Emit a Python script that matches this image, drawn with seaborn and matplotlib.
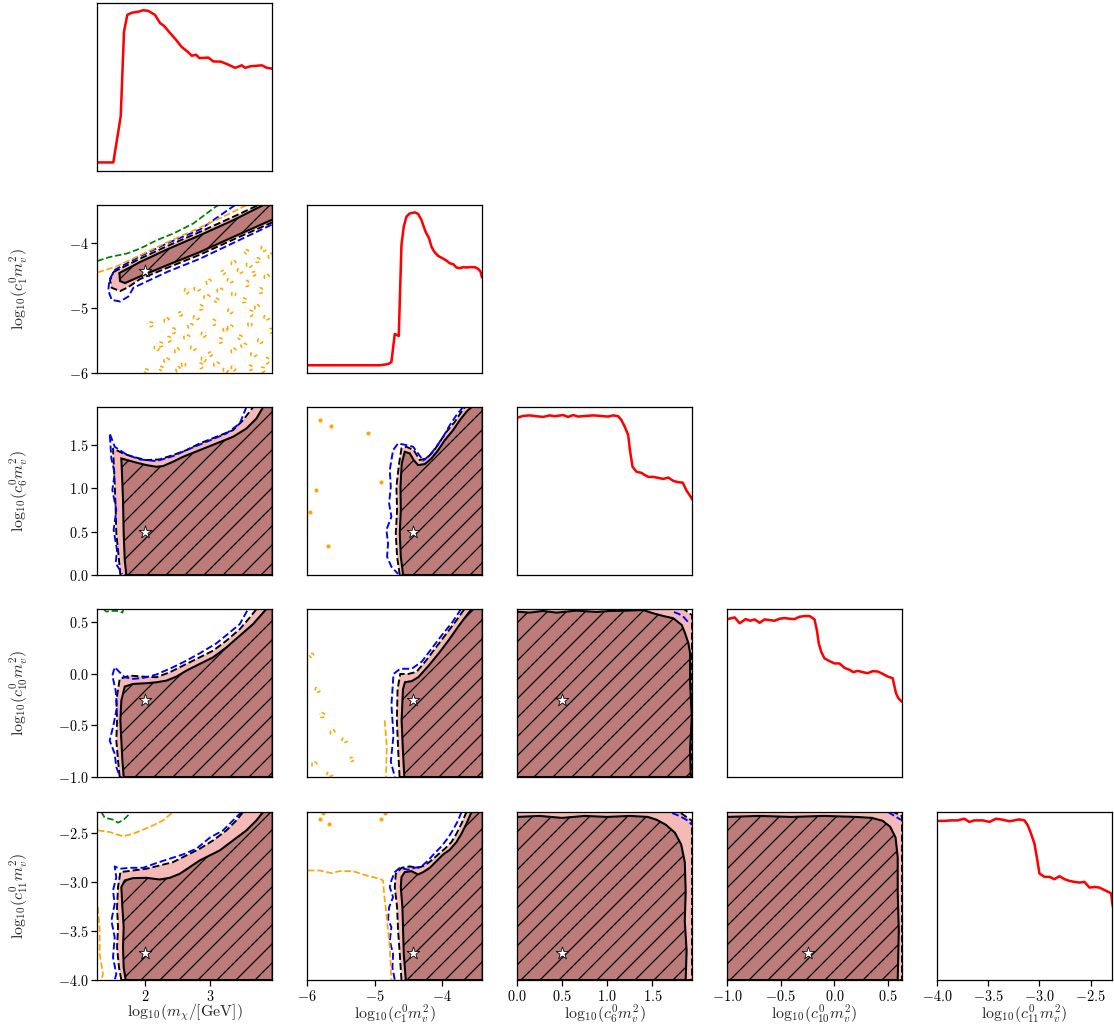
import numpy as np
import matplotlib
matplotlib.use("Agg")
import matplotlib.pyplot as plt
import seaborn as sns

# ------------------------------------------------------------------
# Parameters of the fit
# ------------------------------------------------------------------
param_labels = [r"$\mathrm{log}_{10}(m_\chi/[\mathrm{GeV}])$",
                r"$\mathrm{log}_{10}(c_1^0 m_v^2)$",
                r"$\mathrm{log}_{10}(c_6^0 m_v^2)$",
                r"$\mathrm{log}_{10}(c_{10}^0 m_v^2)$",
                r"$\mathrm{log}_{10}(c_{11}^0 m_v^2)$"]
param_limits = [(1.26, 3.95), (-6.0, -3.41), (0.0, 1.94), (-1.0, 0.63), (-4.0, -2.29)]
tick_values = [[2, 3], [-6, -5, -4], [0.0, 0.5, 1.0, 1.5],
               [-1.0, -0.5, 0.0, 0.5], [-4.0, -3.5, -3.0, -2.5]]
tick_labels = [[r"$2$", r"$3$"],
               [r"$-6$", r"$-5$", r"$-4$"],
               [r"$0.0$", r"$0.5$", r"$1.0$", r"$1.5$"],
               [r"$-1.0$", r"$-0.5$", r"$0.0$", r"$0.5$"],
               [r"$-4.0$", r"$-3.5$", r"$-3.0$", r"$-2.5$"]]
truth = [2.0, -4.43, 0.5, -0.25, -3.73]

# ------------------------------------------------------------------
# 1D profile likelihoods
# ------------------------------------------------------------------
mchi_prof_x = [1.26, 1.511, 1.625, 1.675, 1.726, 1.794, 1.895, 1.972, 2.049, 2.152, 2.23, 2.29,
               2.383, 2.475, 2.563, 2.665, 2.717, 2.783, 2.834, 2.972, 3.049, 3.163, 3.255,
               3.383, 3.486, 3.537, 3.614, 3.794, 3.871, 3.957]
mchi_prof_y = [0.051, 0.051, 0.327, 0.830, 0.929, 0.942, 0.948, 0.957, 0.953, 0.929, 0.880, 0.864,
               0.821, 0.781, 0.738, 0.706, 0.686, 0.692, 0.672, 0.675, 0.652, 0.651, 0.637,
               0.614, 0.629, 0.614, 0.623, 0.629, 0.614, 0.609]

c1_prof_x = [-6.0, -4.923, -4.80, -4.751, -4.701, -4.677, -4.642, -4.602, -4.568, -4.528, -4.479,
             -4.405, -4.356, -4.306, -4.272, -4.242, -4.193, -4.158, -4.119, -4.059, -3.995,
             -3.936, -3.886, -3.837, -3.788, -3.738, -3.689, -3.640, -3.590, -3.516, -3.467,
             -3.432, -3.41]
c1_prof_y = [0.046, 0.046, 0.053, 0.065, 0.232, 0.228, 0.220, 0.762, 0.871, 0.931, 0.950,
             0.956, 0.947, 0.911, 0.871, 0.838, 0.802, 0.752, 0.723, 0.697, 0.683,
             0.669, 0.653, 0.648, 0.628, 0.624, 0.630, 0.628, 0.630, 0.630, 0.620,
             0.604, 0.568]

c6_prof_x = [0.011, 0.067, 0.141, 0.215, 0.289, 0.363, 0.419, 0.511, 0.567, 0.622, 0.678, 0.770,
             0.844, 0.919, 1.011, 1.067, 1.122, 1.159, 1.196, 1.233, 1.252, 1.281, 1.326, 1.381,
             1.400, 1.456, 1.511, 1.567, 1.622, 1.678, 1.733, 1.789, 1.837, 1.881, 1.919, 1.948]
c6_prof_y = [0.937, 0.947, 0.950, 0.945, 0.941, 0.950, 0.945, 0.952, 0.941, 0.952, 0.943, 0.947,
             0.950, 0.947, 0.943, 0.950, 0.945, 0.921, 0.881, 0.832, 0.743, 0.644, 0.614, 0.608,
             0.600, 0.584, 0.584, 0.578, 0.572, 0.580, 0.560, 0.552, 0.550, 0.501, 0.471, 0.446]

c10_prof_x = [-0.991, -0.929, -0.882, -0.826, -0.783, -0.743, -0.696, -0.650, -0.603, -0.557,
              -0.510, -0.464, -0.417, -0.371, -0.324, -0.278, -0.231, -0.185, -0.163, -0.145,
              -0.123, -0.092, -0.046, 0.001, 0.047, 0.094, 0.140, 0.178, 0.218, 0.264, 0.311,
              0.357, 0.404, 0.450, 0.497, 0.543, 0.574, 0.596, 0.630]
c10_prof_y = [0.940, 0.950, 0.915, 0.940, 0.930, 0.938, 0.918, 0.938, 0.934, 0.930,
              0.942, 0.946, 0.942, 0.940, 0.954, 0.958, 0.958, 0.938, 0.875, 0.795,
              0.746, 0.706, 0.690, 0.676, 0.676, 0.650, 0.638, 0.624, 0.632, 0.624, 0.618,
              0.630, 0.628, 0.614, 0.598, 0.588, 0.499, 0.469, 0.447]

c11_prof_x = [-3.984, -3.928, -3.863, -3.798, -3.733, -3.684, -3.635, -3.553, -3.488, -3.423,
              -3.358, -3.292, -3.244, -3.195, -3.146, -3.113, -3.081, -3.048, -3.025, -2.999,
              -2.950, -2.901, -2.852, -2.803, -2.754, -2.706, -2.657, -2.608, -2.559, -2.510,
              -2.461, -2.412, -2.363, -2.314, -2.298, -2.282]
c11_prof_y = [0.947, 0.947, 0.950, 0.950, 0.960, 0.941, 0.950, 0.950, 0.941, 0.960,
              0.954, 0.945, 0.950, 0.956, 0.950, 0.921, 0.871, 0.812, 0.733, 0.634,
              0.614, 0.614, 0.600, 0.618, 0.600, 0.590, 0.584, 0.580, 0.584, 0.550,
              0.554, 0.550, 0.535, 0.521, 0.515, 0.436]

# ------------------------------------------------------------------
# 2D credible regions and comparison contours
# ------------------------------------------------------------------
# c1 vs m_chi
c1_mchi_1sig = [(1.604, -4.459), (1.922, -4.289), (2.332, -4.097), (2.845, -3.875), (3.357, -3.643),
                (3.819, -3.41), (3.963, -3.41), (3.963, -3.632), (3.357, -3.901), (2.845, -4.134),
                (2.332, -4.34), (1.922, -4.511), (1.691, -4.614), (1.614, -4.583)]
c1_mchi_2sig = [(1.511, -4.444), (1.922, -4.237), (2.332, -4.046), (2.845, -3.823), (3.357, -3.591),
                (3.742, -3.41), (3.963, -3.41), (3.963, -3.674), (3.357, -3.942), (2.845, -4.175),
                (2.332, -4.382), (1.922, -4.552), (1.742, -4.676), (1.614, -4.738), (1.486, -4.686),
                (1.46, -4.573)]
c1_mchi_blue = [(3.383, -3.41), (2.845, -3.787), (2.332, -4.004), (1.922, -4.201), (1.537, -4.407),
                (1.45, -4.562), (1.434, -4.728), (1.486, -4.873), (1.614, -4.898), (1.742, -4.821),
                (1.819, -4.686), (2.332, -4.444), (2.845, -4.237), (3.357, -3.994), (3.963, -3.705)]
c1_mchi_orange = [(1.27, -4.449), (1.537, -4.366), (1.922, -4.185), (2.332, -3.989), (2.845, -3.756),
                  (3.306, -3.539), (3.563, -3.41)]
c1_mchi_green = [(1.265, -4.273), (1.46, -4.211), (1.716, -4.159), (1.922, -4.082), (2.178, -3.953),
                 (2.434, -3.849), (2.742, -3.694), (3.049, -3.462), (3.127, -3.41)]
c1_mchi_orange_islands = [
    (3.56, -4.13), (3.82, -4.08), (3.72, -4.26), (3.36, -4.31), (3.46, -4.42), (3.67, -4.47),
    (3.87, -4.52), (3.31, -4.57), (3.56, -4.62), (3.15, -4.73), (3.36, -4.78), (3.77, -4.73),
    (2.95, -4.83), (2.64, -4.73), (2.85, -4.99), (3.10, -4.88), (3.31, -5.04), (3.51, -4.88),
    (3.72, -4.99), (3.87, -5.14), (2.54, -5.09), (2.33, -5.19), (2.79, -5.14), (3.05, -5.22),
    (3.31, -5.30), (3.61, -5.25), (2.43, -5.35), (2.64, -5.45), (2.90, -5.40), (3.15, -5.50),
    (3.46, -5.45), (3.77, -5.50), (2.23, -5.56), (2.49, -5.66), (2.74, -5.61), (3.00, -5.71),
    (3.36, -5.66), (3.67, -5.71), (3.87, -5.81), (2.33, -5.81), (2.59, -5.87), (2.85, -5.89),
    (3.10, -5.87), (3.36, -5.92), (3.61, -5.92), (2.02, -5.97), (2.18, -5.61), (2.08, -5.25),
    (3.93, -4.20), (3.60, -4.33), (3.20, -4.45), (2.98, -4.60), (2.80, -4.70), (3.62, -5.08),
    (2.70, -5.28), (3.23, -5.33), (2.36, -5.48), (3.52, -5.58), (2.90, -5.78), (3.80, -5.95),
    (2.25, -5.93), (3.24, -5.95), (3.93, -5.35), (2.51, -5.95)]

# c6 vs m_chi
c6_mchi_1sig = [(1.711, 0.0), (1.686, 0.173), (1.67, 0.481), (1.66, 0.865), (1.65, 1.058),
                (1.634, 1.346), (1.814, 1.308), (2.019, 1.269), (2.173, 1.25), (2.275, 1.258),
                (2.429, 1.308), (2.583, 1.365), (2.839, 1.442), (3.096, 1.519), (3.352, 1.596),
                (3.557, 1.692), (3.711, 1.808), (3.814, 1.94), (3.96, 1.94), (3.96, 0.0)]
c6_mchi_2sig = [(1.619, 0.0), (1.598, 0.173), (1.557, 0.481), (1.547, 0.75), (1.532, 1.058),
                (1.506, 1.462), (1.66, 1.404), (1.814, 1.365), (2.019, 1.327), (2.224, 1.335),
                (2.429, 1.385), (2.634, 1.442), (2.839, 1.519), (3.096, 1.596), (3.352, 1.673),
                (3.506, 1.788), (3.66, 1.94), (3.96, 1.94), (3.96, 0.0)]
c6_mchi_blue = [(3.557, 1.94), (3.455, 1.75), (3.25, 1.635), (2.942, 1.538), (2.634, 1.442),
                (2.429, 1.373), (2.173, 1.315), (1.916, 1.335), (1.711, 1.392), (1.532, 1.481),
                (1.455, 1.635), (1.481, 1.346), (1.532, 1.173), (1.496, 0.981), (1.557, 0.75),
                (1.516, 0.519), (1.568, 0.288), (1.547, 0.135), (1.65, 0.012)]

# c6 vs c1
c6_c1_1sig = [(-4.578, 0.0), (-4.612, 0.212), (-4.627, 0.481), (-4.612, 0.75), (-4.617, 1.019),
              (-4.598, 1.288), (-4.553, 1.423), (-4.479, 1.404), (-4.42, 1.327), (-4.356, 1.269),
              (-4.257, 1.281), (-4.158, 1.346), (-4.059, 1.442), (-3.96, 1.558), (-3.837, 1.673),
              (-3.738, 1.788), (-3.64, 1.885), (-3.565, 1.94), (-3.40, 1.94), (-3.40, 0.0)]
c6_c1_2sig = [(-4.627, 0.0), (-4.667, 0.212), (-4.686, 0.481), (-4.667, 0.75), (-4.677, 1.019),
              (-4.637, 1.288), (-4.602, 1.462), (-4.528, 1.481), (-4.42, 1.442), (-4.331, 1.327),
              (-4.232, 1.346), (-4.133, 1.423), (-4.035, 1.538), (-3.936, 1.654), (-3.812, 1.769),
              (-3.714, 1.885), (-3.664, 1.94), (-3.40, 1.94), (-3.40, 0.0)]
c6_c1_blue = [(-3.689, 1.94), (-3.788, 1.846), (-3.886, 1.731), (-3.985, 1.596), (-4.084, 1.481),
              (-4.183, 1.385), (-4.281, 1.319), (-4.356, 1.404), (-4.43, 1.481), (-4.528, 1.5),
              (-4.652, 1.519), (-4.726, 1.442), (-4.775, 1.212), (-4.76, 1.019), (-4.785, 0.827),
              (-4.751, 0.673), (-4.825, 0.519), (-4.8, 0.365), (-4.815, 0.212), (-4.751, 0.096),
              (-4.652, 0.012)]
c6_c1_orange_dots = [(-5.81, 1.79), (-5.64, 1.72), (-5.09, 1.64), (-4.90, 1.07), (-5.87, 0.98),
                     (-5.95, 0.73), (-5.69, 0.33)]

# c10 vs m_chi
c10_mchi_1sig = [(1.67, -1.0), (1.65, -0.839), (1.634, -0.645), (1.619, -0.452), (1.634, -0.258),
                 (1.686, -0.123), (1.814, -0.097), (2.019, -0.09), (2.173, -0.081), (2.327, -0.065),
                 (2.481, -0.026), (2.634, 0.032), (2.839, 0.097), (3.045, 0.161), (3.25, 0.258),
                 (3.455, 0.371), (3.66, 0.484), (3.839, 0.613), (3.865, 0.63), (3.96, 0.63),
                 (3.96, -1.0)]
c10_mchi_2sig = [(1.609, -1.0), (1.583, -0.839), (1.557, -0.645), (1.568, -0.452), (1.557, -0.258),
                 (1.609, -0.048), (1.763, -0.016), (1.968, -0.026), (2.173, -0.032), (2.378, 0.016),
                 (2.583, 0.081), (2.839, 0.161), (3.045, 0.226), (3.25, 0.323), (3.455, 0.435),
                 (3.609, 0.548), (3.712, 0.63), (3.96, 0.63), (3.96, -1.0)]
c10_mchi_blue = [(3.568, 0.613), (3.455, 0.484), (3.301, 0.403), (3.096, 0.297), (2.839, 0.2),
                 (2.634, 0.129), (2.429, 0.065), (2.173, -0.006), (1.968, -0.039), (1.814, -0.048),
                 (1.686, -0.032), (1.609, 0.016), (1.532, 0.065), (1.496, -0.016), (1.547, -0.161),
                 (1.568, -0.323), (1.506, -0.516), (1.455, -0.645), (1.532, -0.774), (1.557, -0.903),
                 (1.609, -0.994)]
c10_mchi_green = [(1.36, 0.63), (1.40, 0.605), (1.50, 0.612), (1.60, 0.61), (1.65, 0.595), (1.67, 0.63)]

# c10 vs c1
c10_c1_1sig = [(-4.56, -1.0), (-4.58, -0.75), (-4.60, -0.45), (-4.58, -0.15), (-4.55, -0.08),
               (-4.45, -0.07), (-4.35, -0.03), (-4.20, 0.08), (-4.05, 0.20), (-3.90, 0.33),
               (-3.75, 0.47), (-3.60, 0.60), (-3.56, 0.63), (-3.40, 0.63), (-3.40, -1.0)]
c10_c1_2sig = [(-4.63, -1.0), (-4.65, -0.75), (-4.67, -0.45), (-4.66, -0.15), (-4.62, 0.0),
               (-4.50, 0.0), (-4.38, 0.02), (-4.25, 0.12), (-4.10, 0.25), (-3.95, 0.38),
               (-3.80, 0.51), (-3.67, 0.63), (-3.40, 0.63), (-3.40, -1.0)]
c10_c1_blue = [(-3.72, 0.63), (-3.85, 0.50), (-4.00, 0.38), (-4.15, 0.25), (-4.30, 0.12),
               (-4.45, 0.05), (-4.62, 0.05), (-4.72, 0.0), (-4.75, -0.3), (-4.72, -0.6),
               (-4.76, -0.85), (-4.70, -1.0)]
c10_c1_orange = [(-4.85, -0.45), (-4.82, -0.7), (-4.83, -1.0)]
c10_c1_orange_islands = [(-5.93, 0.18), (-5.84, -0.15), (-5.78, -0.40), (-5.62, -0.57),
                         (-5.44, -0.64), (-5.34, -0.83), (-5.89, -0.88), (-5.66, -0.97)]

# c10 vs c6
c10_c6_1sig = [(0.0, 0.604), (0.141, 0.595), (0.289, 0.611), (0.437, 0.595), (0.659, 0.614),
               (0.881, 0.601), (1.03, 0.611), (1.215, 0.614), (1.4, 0.62), (1.511, 0.588),
               (1.622, 0.562), (1.733, 0.54), (1.826, 0.475), (1.863, 0.395), (1.9, 0.298),
               (1.919, 0.201), (1.919, -0.089), (1.937, -0.412), (1.919, -0.735), (1.926, -1.0),
               (0.0, -1.0)]
c10_c6_2sig = [(0.0, -1.0), (0.0, 0.63), (1.85, 0.63), (1.94, 0.57), (1.94, -1.0)]
c10_c6_blue = [(1.74, 0.60), (1.80, 0.58), (1.85, 0.55), (1.90, 0.50)]

# c11 vs m_chi
c11_mchi_1sig = [(1.701, -4.0), (1.67, -3.872), (1.66, -3.668), (1.67, -3.463), (1.65, -3.259),
                 (1.634, -3.055), (1.686, -2.987), (1.814, -2.963), (2.019, -2.96), (2.224, -2.977),
                 (2.378, -2.96), (2.532, -2.919), (2.686, -2.851), (2.839, -2.783), (2.993, -2.732),
                 (3.147, -2.681), (3.352, -2.579), (3.557, -2.477), (3.711, -2.375), (3.814, -2.29),
                 (3.96, -2.29), (3.96, -4.0)]
c11_mchi_2sig = [(1.634, -4.0), (1.598, -3.872), (1.568, -3.668), (1.583, -3.463), (1.568, -3.259),
                 (1.583, -3.055), (1.619, -2.902), (1.814, -2.885), (2.019, -2.868), (2.224, -2.834),
                 (2.429, -2.8), (2.634, -2.732), (2.839, -2.664), (3.045, -2.579), (3.25, -2.477),
                 (3.404, -2.375), (3.506, -2.29), (3.96, -2.29), (3.96, -4.0)]
c11_mchi_blue = [(3.481, -2.29), (3.352, -2.375), (3.198, -2.477), (2.993, -2.552), (2.788, -2.664),
                 (2.583, -2.722), (2.327, -2.776), (2.173, -2.81), (1.968, -2.858), (1.763, -2.858),
                 (1.609, -2.868), (1.532, -2.844), (1.557, -2.953), (1.506, -3.089), (1.532, -3.225),
                 (1.481, -3.395), (1.532, -3.566), (1.506, -3.77), (1.557, -3.94), (1.532, -4.0)]
c11_mchi_orange_top = [(1.275, -2.477), (1.455, -2.494), (1.66, -2.538), (1.814, -2.511),
                       (2.07, -2.443), (2.275, -2.375), (2.429, -2.29)]
c11_mchi_orange_left = [(1.275, -3.259), (1.301, -3.497), (1.301, -3.736), (1.352, -3.94), (1.327, -4.0)]
c11_mchi_green = [(1.327, -2.29), (1.378, -2.348), (1.506, -2.368), (1.583, -2.399), (1.67, -2.368),
                  (1.737, -2.324), (1.763, -2.29)]

# c11 vs c1
c11_c1_1sig = [(-4.538, -4.0), (-4.568, -3.736), (-4.578, -3.497), (-4.588, -3.259), (-4.612, -3.055),
               (-4.602, -2.953), (-4.553, -2.902), (-4.454, -2.892), (-4.356, -2.926), (-4.281, -2.902),
               (-4.183, -2.858), (-4.084, -2.79), (-3.985, -2.722), (-3.886, -2.674), (-3.788, -2.596),
               (-3.714, -2.511), (-3.64, -2.409), (-3.565, -2.29), (-3.40, -2.29), (-3.40, -4.0)]
c11_c1_2sig = [(-4.602, -4.0), (-4.627, -3.736), (-4.652, -3.497), (-4.667, -3.259), (-4.701, -3.055),
               (-4.686, -2.919), (-4.602, -2.858), (-4.479, -2.844), (-4.356, -2.858), (-4.257, -2.834),
               (-4.158, -2.783), (-4.059, -2.722), (-3.96, -2.664), (-3.862, -2.596), (-3.788, -2.511),
               (-3.714, -2.409), (-3.64, -2.29), (-3.40, -2.29), (-3.40, -4.0)]
c11_c1_blue = [(-3.714, -2.29), (-3.763, -2.375), (-3.837, -2.47), (-3.911, -2.552), (-4.01, -2.64),
               (-4.109, -2.708), (-4.207, -2.783), (-4.306, -2.844), (-4.405, -2.858), (-4.504, -2.878),
               (-4.627, -2.858), (-4.701, -2.902), (-4.751, -2.987), (-4.775, -3.055), (-4.726, -3.157),
               (-4.785, -3.259), (-4.8, -3.378), (-4.751, -3.463), (-4.775, -3.599), (-4.726, -3.736),
               (-4.736, -3.872), (-4.701, -4.0)]
c11_c1_orange = [(-5.985, -2.885), (-5.812, -2.885), (-5.64, -2.912), (-5.516, -2.892), (-5.319, -2.892),
                 (-5.121, -2.936), (-4.923, -2.97), (-4.874, -2.987), (-4.859, -3.123), (-4.825, -3.327),
                 (-4.8, -3.497), (-4.775, -3.668), (-4.76, -3.872), (-4.751, -4.0)]
c11_c1_orange_dots = [(-5.81, -2.36), (-5.76, -2.30), (-5.68, -2.41), (-4.90, -2.36), (-4.84, -2.30)]

# c11 vs c6
c11_c6_1sig = [(0.0, -2.34), (0.25, -2.33), (0.5, -2.35), (0.75, -2.33), (1.0, -2.34), (1.25, -2.33),
               (1.45, -2.34), (1.55, -2.37), (1.65, -2.42), (1.75, -2.5), (1.82, -2.62), (1.86, -2.8),
               (1.87, -3.1), (1.86, -3.4), (1.88, -3.7), (1.87, -4.0), (0.0, -4.0)]
c11_c6_2sig = [(0.0, -4.0), (0.0, -2.29), (1.8, -2.29), (1.94, -2.38), (1.94, -4.0)]
c11_c6_blue = [(1.72, -2.30), (1.80, -2.33), (1.88, -2.37), (1.94, -2.42)]

# c11 vs c10
c11_c10_1sig = [(-1.0, -2.34), (-0.7, -2.33), (-0.4, -2.34), (-0.1, -2.33), (0.2, -2.34), (0.35, -2.35),
                (0.45, -2.38), (0.52, -2.44), (0.57, -2.55), (0.59, -2.75), (0.59, -3.1), (0.60, -3.5),
                (0.59, -4.0), (-1.0, -4.0)]
c11_c10_2sig = [(-1.0, -4.0), (-1.0, -2.29), (0.55, -2.29), (0.63, -2.33), (0.63, -4.0)]
c11_c10_blue = [(0.50, -2.29), (0.56, -2.33), (0.62, -2.37)]

profiles = [(mchi_prof_x, mchi_prof_y), (c1_prof_x, c1_prof_y), (c6_prof_x, c6_prof_y),
            (c10_prof_x, c10_prof_y), (c11_prof_x, c11_prof_y)]

panels = {
    (1, 0): dict(sig1=c1_mchi_1sig, sig2=c1_mchi_2sig, blue=[c1_mchi_blue],
                 orange=[c1_mchi_orange], green=[c1_mchi_green], islands=c1_mchi_orange_islands),
    (2, 0): dict(sig1=c6_mchi_1sig, sig2=c6_mchi_2sig, blue=[c6_mchi_blue]),
    (2, 1): dict(sig1=c6_c1_1sig, sig2=c6_c1_2sig, blue=[c6_c1_blue], dots=c6_c1_orange_dots),
    (3, 0): dict(sig1=c10_mchi_1sig, sig2=c10_mchi_2sig, blue=[c10_mchi_blue], green=[c10_mchi_green]),
    (3, 1): dict(sig1=c10_c1_1sig, sig2=c10_c1_2sig, blue=[c10_c1_blue], orange=[c10_c1_orange],
                 islands=c10_c1_orange_islands),
    (3, 2): dict(sig1=c10_c6_1sig, sig2=c10_c6_2sig, blue=[c10_c6_blue]),
    (4, 0): dict(sig1=c11_mchi_1sig, sig2=c11_mchi_2sig, blue=[c11_mchi_blue],
                 orange=[c11_mchi_orange_top, c11_mchi_orange_left], green=[c11_mchi_green]),
    (4, 1): dict(sig1=c11_c1_1sig, sig2=c11_c1_2sig, blue=[c11_c1_blue], orange=[c11_c1_orange],
                 dots=c11_c1_orange_dots),
    (4, 2): dict(sig1=c11_c6_1sig, sig2=c11_c6_2sig, blue=[c11_c6_blue]),
    (4, 3): dict(sig1=c11_c10_1sig, sig2=c11_c10_2sig, blue=[c11_c10_blue]),
}

# ------------------------------------------------------------------
# Styling
# ------------------------------------------------------------------
DPI = 114
W, H = 1114, 1031
sns.set_style("ticks")
plt.rcParams.update({
    "mathtext.fontset": "cm",
    "font.family": ["DejaVu Serif"],
    "hatch.linewidth": 0.8,
    "axes.edgecolor": "black",
    "axes.linewidth": 0.8,
    "xtick.direction": "out",
    "ytick.direction": "out",
    "xtick.major.size": 3.5,
    "ytick.major.size": 3.5,
    "xtick.major.width": 0.8,
    "ytick.major.width": 0.8,
    "xtick.color": "black",
    "ytick.color": "black",
})

PINK = "#f5bab7"
DARK = "#bd7c7a"
FS_TICK = 9.0
FS_LABEL = 10.0

fig = plt.figure(figsize=(W / DPI, H / DPI), dpi=DPI, facecolor="white")

col_left = [97 + 210 * c for c in range(5)]
row_top = [3, 205, 407, 609, 812]
AX_W, AX_H = 175, 168


def make_axes(r, c):
    return fig.add_axes([col_left[c] / W, 1 - (row_top[r] + AX_H) / H, AX_W / W, AX_H / H])


def xy(pts):
    xs, ys = zip(*pts)
    return np.array(xs), np.array(ys)


def format_axes(ax, r, c, diag):
    ax.set_xlim(*param_limits[c])
    if not diag:
        ax.set_ylim(*param_limits[r])
    ax.tick_params(labelsize=FS_TICK, pad=2)
    if r == 4:
        ax.set_xticks(tick_values[c], labels=tick_labels[c])
        ax.set_xlabel(param_labels[c], fontsize=FS_LABEL)
        ax.xaxis.set_label_coords(0.5, -0.135)
    else:
        ax.set_xticks([])
    if c == 0 and not diag:
        ax.set_yticks(tick_values[r], labels=tick_labels[r])
        ax.set_ylabel(param_labels[r], fontsize=FS_LABEL)
        ax.yaxis.set_label_coords(-0.38, 0.5)
    else:
        ax.set_yticks([])
    for s in ax.spines.values():
        s.set_visible(True)
        s.set_linewidth(0.8)
        s.set_zorder(10)


def draw_islands(ax, centers, r, c, color, rpx=2.6):
    """Small closed orange contour fragments, drawn as short dashed arcs."""
    x0, x1 = param_limits[c]
    y0, y1 = param_limits[r]
    rx = rpx * (x1 - x0) / AX_W
    ry = rpx * (y1 - y0) / AX_H
    for k, (cx, cy) in enumerate(centers):
        start = (k * 2.1) % (2 * np.pi)
        t = np.linspace(start, start + 1.5 * np.pi, 10)
        sx = 0.8 + 0.4 * ((k * 7) % 5) / 4
        sy = 0.8 + 0.4 * ((k * 3) % 5) / 4
        ax.plot(cx + sx * rx * np.cos(t), cy + sy * ry * np.sin(t), ls="--", color=color,
                lw=1.0, dashes=(2.5, 1.5), zorder=3)


for r in range(5):
    for c in range(r + 1):
        ax = make_axes(r, c)
        if r == c:
            px, py = profiles[r]
            sns.lineplot(x=np.array(px), y=np.array(py), ax=ax, color="red", linewidth=1.6,
                         sort=False, estimator=None)
            ax.set_ylim(0, 1)
            format_axes(ax, r, c, True)
            continue

        p = panels[(r, c)]
        sx, sy = xy(p["sig2"])
        ax.fill(sx, sy, facecolor=PINK, edgecolor="black", linestyle="--", linewidth=1.2, zorder=1)
        ix, iy = xy(p["sig1"])
        ax.fill(ix, iy, facecolor=DARK, edgecolor="black", hatch="//", linewidth=1.3, zorder=2)
        for path in p.get("blue", []):
            bx, by = xy(path)
            ax.plot(bx, by, ls="--", color="blue", lw=1.2, zorder=3)
        for path in p.get("orange", []):
            ox, oy = xy(path)
            ax.plot(ox, oy, ls="--", color="orange", lw=1.1, zorder=3)
        for path in p.get("green", []):
            gx, gy = xy(path)
            ax.plot(gx, gy, ls="--", color="green", lw=1.1, zorder=3)
        if "islands" in p:
            draw_islands(ax, p["islands"], r, c, "orange")
        if "dots" in p:
            dx, dy = xy(p["dots"])
            ax.plot(dx, dy, ls="none", marker="o", ms=1.6, color="orange", zorder=3)
        sns.scatterplot(x=[truth[c]], y=[truth[r]], ax=ax, marker="*", s=70, color="white",
                        edgecolor="black", linewidth=0.5, zorder=6, legend=False)
        format_axes(ax, r, c, False)

fig.savefig("out.png", dpi=DPI, facecolor="white")
